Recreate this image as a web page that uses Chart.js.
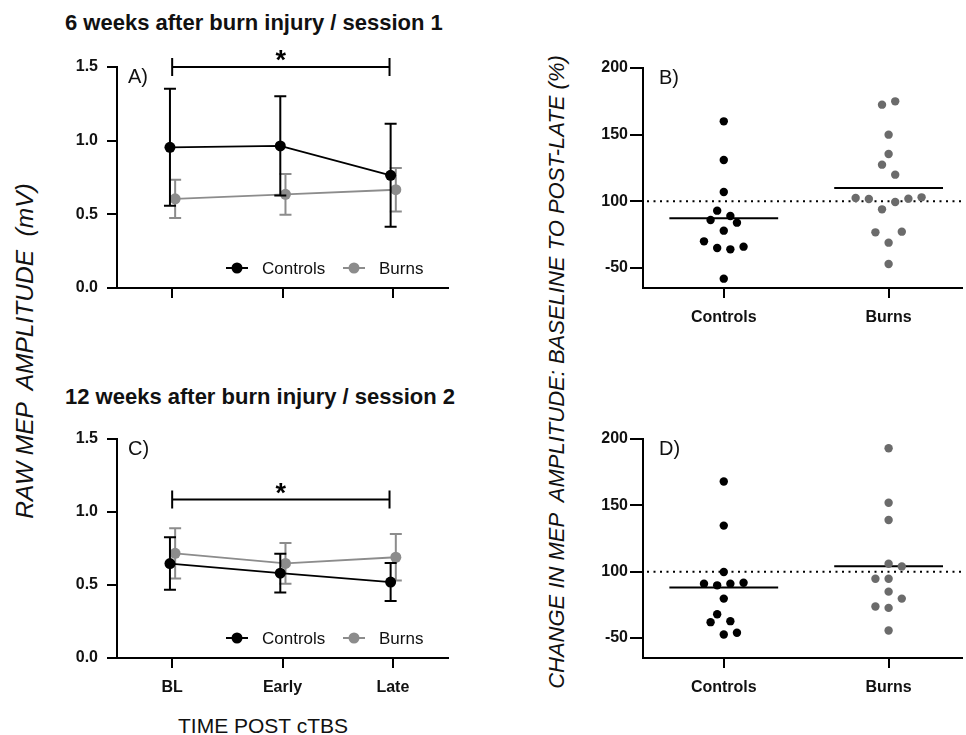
<!DOCTYPE html>
<html>
<head>
<meta charset="utf-8">
<script src="https://cdn.jsdelivr.net/npm/chart.js@4.4.1/dist/chart.umd.min.js"></script>
<style>
  body { margin: 0; background: #fff; }
  #page { position: relative; width: 966px; height: 735px; overflow: hidden; font-family: "Liberation Sans", Arial, sans-serif; color: #111; }
  canvas { position: absolute; }
  .title { position: absolute; font-weight: bold; font-size: 22px; line-height: 22px; white-space: nowrap; }
  .vtitle { position: absolute; font-style: italic; white-space: pre; text-align: center; transform: rotate(-90deg); }
  .xtitle { position: absolute; font-size: 21px; line-height: 21px; text-align: center; white-space: nowrap; }
</style>
</head>
<body>
<div id="page">
  <div class="title" style="left:65px; top:12px;">6 weeks after burn injury / session 1</div>
  <div class="title" style="left:65px; top:386px;">12 weeks after burn injury / session 2</div>
  <div class="vtitle" style="left:-275px; top:338px; width:600px; height:26px; line-height:26px; font-size:24.5px;">RAW MEP  AMPLITUDE  (mV)</div>
  <div class="vtitle" style="left:207px; top:360px; width:700px; height:24px; line-height:24px; font-size:22px;">CHANGE IN MEP  AMPLITUDE: BASELINE TO POST-LATE (%)</div>
  <div class="xtitle" style="left:113px; top:715px; width:300px;">TIME POST cTBS</div>
  <canvas id="chartA" width="470" height="340" style="left:0; top:0;"></canvas>
  <canvas id="chartB" width="446" height="340" style="left:520px; top:0;"></canvas>
  <canvas id="chartC" width="470" height="340" style="left:0; top:370px;"></canvas>
  <canvas id="chartD" width="446" height="340" style="left:520px; top:370px;"></canvas>
</div>
<script>
// time points and groups
const timeLabels = ['BL', 'Early', 'Late'];
const groupLabels = ['Controls', 'Burns'];

// session 1 (A): mean and SD of raw MEP amplitude (mV)
const ctrlMeanA = [0.955, 0.964, 0.765];
const ctrlSdA = [0.397, 0.337, 0.349];
const burnMeanA = [0.605, 0.636, 0.667];
const burnSdA = [0.130, 0.138, 0.147];

// session 2 (C)
const ctrlMeanC = [0.647, 0.581, 0.520];
const ctrlSdC = [0.180, 0.133, 0.130];
const burnMeanC = [0.717, 0.648, 0.690];
const burnSdC = [0.172, 0.139, 0.160];

// % change baseline -> post-late, individual subjects (B = session 1, D = session 2)
const ctrlPctB = [160, 131, 107, 93, 89, 86, 78, 84, 70, 65, 64, 66, 42];
const burnPctB = [172.5, 175, 150, 135.5, 127.5, 120, 102.5, 101.75, 94, 99.5, 102, 103, 76.75, 69, 77.25, 53];
const ctrlPctD = [168, 134.75, 99.75, 91, 89.75, 91, 91.75, 79.75, 68, 62.75, 62, 52.75, 54];
const burnPctD = [193, 152, 139, 106, 94.75, 94.75, 104, 85, 73.75, 72.75, 79.75, 55.75];

// axis ticks
const rawTicks = [0, 0.5, 1.0, 1.5];
const pctTickValues = [50, 100, 150, 200];
const pctTickLabels = ['-50', '100', '150', '200'];

const CTRL = '#000000';
const BURN = '#8c8c8c';
const BURN_DOT = '#6b6b6b';
const FONT = '"Liberation Sans", Arial, sans-serif';

Chart.defaults.font.family = FONT;
Chart.defaults.color = '#111';

const ROW_SPAN = 9.5;     // values closer than this share a swarm row
const SWARM_STEP = 0.04;  // half spacing between dots in a row (x units)

function swarm(values, center) {
    const order = values.map((v, i) => i).sort((a, b) => values[a] - values[b] || a - b);
    const xs = [];
    let i = 0;
    while (i < order.length) {
        const start = values[order[i]];
        const row = [];
        while (i < order.length && values[order[i]] - start <= ROW_SPAN) row.push(order[i++]);
        row.sort((a, b) => a - b);
        row.forEach((k, j) => { xs[k] = center + (2 * j - (row.length - 1)) * SWARM_STEP; });
    }
    return values.map((v, k) => ({ x: xs[k], y: v }));
}

const mean = arr => arr.reduce((s, v) => s + v, 0) / arr.length;

const panelDecor = {
    id: 'panelDecor',
    beforeDatasetsDraw(chart, args, opts) {
        const { ctx, chartArea: a, scales: { x, y } } = chart;
        ctx.save();
        if (opts.refLine != null) {
            const yy = y.getPixelForValue(opts.refLine);
            ctx.strokeStyle = '#000';
            ctx.lineWidth = 2;
            ctx.setLineDash([2, 4.5]);
            ctx.beginPath();
            ctx.moveTo(a.left + 4, yy);
            ctx.lineTo(a.right, yy);
            ctx.stroke();
            ctx.setLineDash([]);
        }
        if (opts.meanLines) {
            chart.data.datasets.forEach((ds, i) => {
                const m = mean(ds.data.map(p => p.y));
                const yy = y.getPixelForValue(m);
                ctx.strokeStyle = '#000';
                ctx.lineWidth = 2;
                ctx.beginPath();
                ctx.moveTo(x.getPixelForValue(i - 0.33), yy);
                ctx.lineTo(x.getPixelForValue(i + 0.33), yy);
                ctx.stroke();
            });
        }
        ctx.restore();
    },
    beforeDatasetDraw(chart, args) {
        const ds = chart.data.datasets[args.index];
        if (!ds.errors) return;
        const { ctx, scales: { y } } = chart;
        ctx.save();
        ctx.strokeStyle = ds.borderColor;
        ctx.lineWidth = 2;
        args.meta.data.forEach((pt, i) => {
            const v = ds.data[i].y;
            const hi = y.getPixelForValue(v + ds.errors[i]);
            const lo = y.getPixelForValue(v - ds.errors[i]);
            ctx.beginPath();
            ctx.moveTo(pt.x, hi); ctx.lineTo(pt.x, lo);
            ctx.moveTo(pt.x - 6, hi); ctx.lineTo(pt.x + 6, hi);
            ctx.moveTo(pt.x - 6, lo); ctx.lineTo(pt.x + 6, lo);
            ctx.stroke();
        });
        ctx.restore();
    },
    afterDraw(chart, args, opts) {
        const { ctx, chartArea: a, scales: { x, y } } = chart;
        ctx.save();
        ctx.fillStyle = '#111';
        ctx.font = '20px ' + FONT;
        ctx.textBaseline = 'middle';
        ctx.textAlign = 'left';
        ctx.fillText(opts.letter, a.left + opts.letterDx, a.top + 10);

        if (opts.bracket) {
            const b = opts.bracket;
            const x1 = x.getPixelForValue(b.from), x2 = x.getPixelForValue(b.to);
            const yy = y.getPixelForValue(b.y);
            ctx.strokeStyle = '#000';
            ctx.lineWidth = 2;
            ctx.beginPath();
            ctx.moveTo(x1, yy); ctx.lineTo(x2, yy);
            ctx.moveTo(x1, yy - 9); ctx.lineTo(x1, yy + 9);
            ctx.moveTo(x2, yy - 9); ctx.lineTo(x2, yy + 9);
            ctx.stroke();
            ctx.font = 'bold 27px ' + FONT;
            ctx.textAlign = 'center';
            ctx.textBaseline = 'alphabetic';
            ctx.fillStyle = '#000';
            ctx.fillText('*', (x1 + x2) / 2, yy + 2);
        }

        if (opts.legend) {
            const ly = a.bottom - 20;
            const items = chart.data.datasets.map(ds => ({ label: ds.label, color: ds.borderColor }));
            const symX = [a.right - 211, a.right - 94];
            const txtX = [a.right - 186, a.right - 69];
            ctx.font = '17px ' + FONT;
            ctx.textAlign = 'left';
            ctx.textBaseline = 'middle';
            items.forEach((it, i) => {
                ctx.strokeStyle = it.color;
                ctx.fillStyle = it.color;
                ctx.lineWidth = 2;
                ctx.beginPath();
                ctx.moveTo(symX[i] - 11, ly); ctx.lineTo(symX[i] + 11, ly);
                ctx.stroke();
                ctx.beginPath();
                ctx.arc(symX[i], ly, 5.5, 0, Math.PI * 2);
                ctx.fill();
                ctx.fillStyle = '#111';
                ctx.fillText(it.label, txtX[i], ly + 1);
            });
        }
        ctx.restore();
    }
};

function axisStyle(extra) {
    return Object.assign({
        border: { display: true, color: '#000', width: 2 },
        grid: { display: true, drawOnChartArea: false, drawTicks: true, tickLength: 10, color: '#000', lineWidth: 2 },
        ticks: { color: '#111', font: { size: 16, weight: 'bold' } }
    }, extra);
}

function lineDataset(label, means, sds, color, dodge) {
    return {
        label,
        data: means.map((v, i) => ({ x: i + dodge, y: v })),
        errors: sds,
        borderColor: color,
        backgroundColor: color,
        borderWidth: 1.8,
        pointRadius: 5.5,
        pointBackgroundColor: color,
        pointBorderWidth: 0,
        showLine: true,
        clip: false
    };
}

function rawChart(id, ctrlMean, ctrlSd, burnMean, burnSd, opts) {
    return new Chart(document.getElementById(id), {
        type: 'scatter',
        data: {
            datasets: [
                lineDataset('Controls', ctrlMean, ctrlSd, CTRL, -0.02),
                lineDataset('Burns', burnMean, burnSd, BURN, 0.027)
            ]
        },
        options: {
            responsive: false,
            animation: false,
            layout: { padding: { top: opts.top, right: 22, bottom: 2, left: 0 } },
            scales: {
                x: axisStyle({
                    type: 'linear', min: -0.5, max: 2.5,
                    afterBuildTicks: s => { s.ticks = timeLabels.map((t, i) => ({ value: i })); },
                    afterFit: s => { s.height = 50; },
                    ticks: {
                        display: opts.showX, color: '#111', padding: 10,
                        font: { size: 16, weight: 'bold' },
                        callback: v => timeLabels[v]
                    }
                }),
                y: axisStyle({
                    min: 0, max: 1.5,
                    afterBuildTicks: s => { s.ticks = rawTicks.map(v => ({ value: v })); },
                    afterFit: s => { s.width = 117; },
                    ticks: {
                        color: '#111', padding: 9,
                        font: { size: 16, weight: 'bold' },
                        callback: v => v.toFixed(1)
                    }
                })
            },
            plugins: {
                legend: { display: false },
                tooltip: { enabled: false },
                panelDecor: { letter: opts.letter, letterDx: 11, bracket: { from: 0, to: 1.97, y: opts.bracketY }, legend: true }
            }
        },
        plugins: [panelDecor]
    });
}

function pctChart(id, ctrlVals, burnVals, opts) {
    const dot = (label, vals, color, i) => ({
        label,
        data: swarm(vals, i),
        borderColor: color,
        backgroundColor: color,
        pointRadius: 4.2,
        pointBorderWidth: 0,
        clip: false
    });
    return new Chart(document.getElementById(id), {
        type: 'scatter',
        data: {
            datasets: [
                dot(groupLabels[0], ctrlVals, CTRL, 0),
                dot(groupLabels[1], burnVals, BURN_DOT, 1)
            ]
        },
        options: {
            responsive: false,
            animation: false,
            layout: { padding: { top: opts.top, right: 0, bottom: 2, left: 0 } },
            scales: {
                x: axisStyle({
                    type: 'linear', min: -0.49, max: 1.444,
                    afterBuildTicks: s => { s.ticks = groupLabels.map((g, i) => ({ value: i })); },
                    afterFit: s => { s.height = 50; },
                    ticks: {
                        color: '#111', padding: 10,
                        font: { size: 16, weight: 'bold' },
                        callback: v => groupLabels[v]
                    }
                }),
                y: axisStyle({
                    min: 35, max: 200,
                    grid: { display: true, drawOnChartArea: false, drawTicks: true, tickLength: 13, color: '#000', lineWidth: 2 },
                    afterBuildTicks: s => { s.ticks = pctTickValues.map(v => ({ value: v })); },
                    afterFit: s => { s.width = 123; },
                    ticks: {
                        color: '#111', padding: 2,
                        font: { size: 16, weight: 'bold' },
                        callback: v => pctTickLabels[pctTickValues.indexOf(v)]
                    }
                })
            },
            plugins: {
                legend: { display: false },
                tooltip: { enabled: false },
                panelDecor: { letter: opts.letter, letterDx: 16, refLine: 100, meanLines: true }
            }
        },
        plugins: [panelDecor]
    });
}

rawChart('chartA', ctrlMeanA, ctrlSdA, burnMeanA, burnSdA, { top: 67, letter: 'A)', bracketY: 1.5, showX: false });
rawChart('chartC', ctrlMeanC, ctrlSdC, burnMeanC, burnSdC, { top: 69, letter: 'C)', bracketY: 1.085, showX: true });
pctChart('chartB', ctrlPctB, burnPctB, { top: 68, letter: 'B)' });
pctChart('chartD', ctrlPctD, burnPctD, { top: 69, letter: 'D)' });
</script>
</body>
</html>
